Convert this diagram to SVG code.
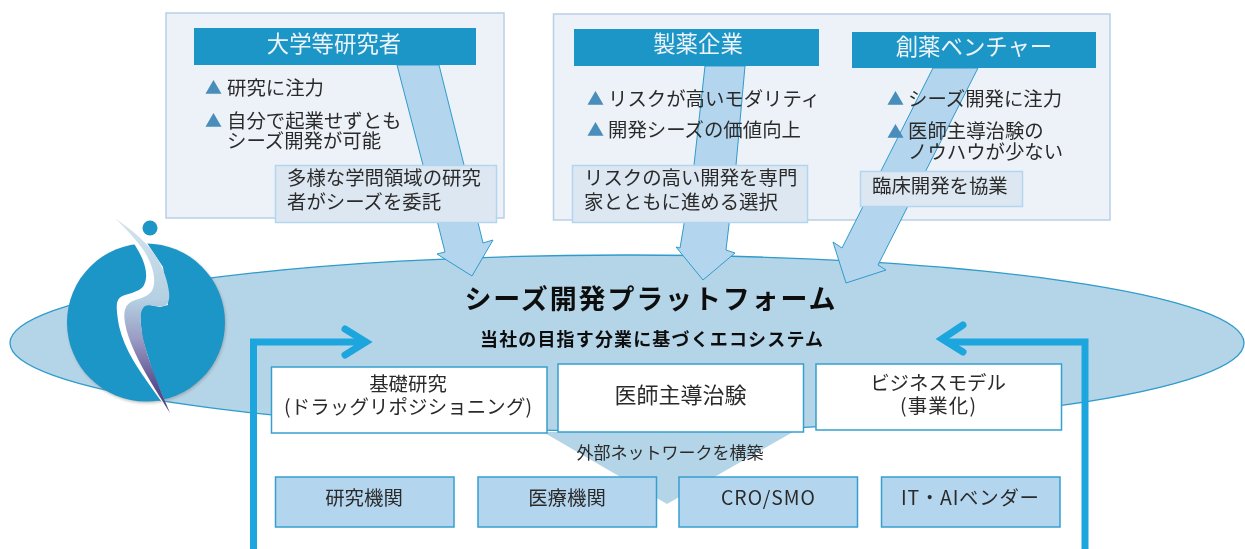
<svg xmlns="http://www.w3.org/2000/svg" width="1245" height="549" viewBox="0 0 1245 549">
<style>
text{font-family:"Noto Sans CJK JP","Noto Sans",sans-serif;fill:#2b2b2b}
.panel{fill:#edf2f9;stroke:#b8d0e6;stroke-width:1.5}
.head{fill:#1e95c7}
.ht{font-size:22.400px;fill:#edf4f9;text-anchor:middle}
.b{font-size:19.400px}
.tri{font-size:17px;fill:#4a8dba}
.lab{fill:#dde7f2;stroke:#b4d5ee;stroke-width:1.5}
.arrow{fill:#b4d5ee;stroke:#2f9bcb;stroke-width:1}
.thick{fill:none;stroke:#1ca6dd;stroke-width:7}
.chev{fill:none;stroke:#1ca6dd;stroke-width:7;stroke-linecap:round;stroke-linejoin:miter}
.wb{fill:#fff;stroke:#35a0cf;stroke-width:1.5}
.sb{fill:#b4d5ee;stroke:#35a0cf;stroke-width:1.5}
.c{text-anchor:middle}
</style>
<defs>
<linearGradient id="sw" gradientUnits="userSpaceOnUse" x1="0" y1="218" x2="0" y2="413">
<stop offset="0" stop-color="#d5e4ee"/><stop offset="0.42" stop-color="#b4d0e2"/><stop offset="0.62" stop-color="#9a9cc4"/><stop offset="0.85" stop-color="#5d5290"/><stop offset="1" stop-color="#4d3f80"/>
</linearGradient>
<filter id="sh" x="-10%" y="-10%" width="120%" height="120%"><feGaussianBlur stdDeviation="1.5"/></filter>
<filter id="soft" x="0" y="0" width="100%" height="100%"><feGaussianBlur stdDeviation="0.35"/></filter>
</defs>
<g filter="url(#soft)">
<rect x="0" y="0" width="1245" height="549" fill="#fff"/>
<g id="panel-university"><rect class="panel" x="166" y="13" width="338" height="205"/></g>
<g id="panel-industry"><rect class="panel" x="553.500" y="14" width="556.500" height="206"/></g>
<g id="platform">
<ellipse cx="627" cy="343" rx="617" ry="88" fill="#b4d5e8" stroke="#2f9bcb" stroke-width="1.300"/>
<polygon points="543,432 793,432 667,504" fill="#b4d5e8"/>
</g>
<g id="connectors">
<polygon class="arrow" points="397,65 439,65 464,165 483,243 493,240 472,276 437,254 445,252 423,165"/>
<polygon class="arrow" points="705,66 745,66 736,165 726,250 735,253 703,280 676,247 680,248 694,165"/>
<polygon class="arrow" points="933,68 978,68 878,265 886,270 846,283 833,242 842,248"/>
<path class="thick" d="M253.500,549V342H364"/>
<path class="chev" d="M345,329L366,342L345,355"/>
<path class="thick" d="M1085,549V342H946"/>
<path class="chev" d="M963,325L942,339L963,352"/>
</g>
<g id="logo">
<circle cx="147" cy="324" r="79" fill="#888" opacity=".55" filter="url(#sh)"/>
<circle cx="146" cy="322.500" r="79" fill="#1e95c7"/>
<circle cx="150" cy="228" r="7.500" fill="#1e95c7"/>
<path d="M115,218L126,232Q137,247 142,258Q147,270 146,278Q145,287 139,290Q133,293 125,295Q118,297 117,303Q116,310 119,326Q123,343 133,360Q143,377 170,413L153,373L142,337L140,313L145,304L160,307L168,305L163,267L147,243Z" fill="#fff"/>
<path d="M115,218L131,230Q147,243 155,255Q163,267 166.500,280Q170,293 169,299Q168,305 164,306Q160,307 152.500,305.500Q145,304 142.500,308.500Q140,313 141,325Q142,337 147.500,355Q153,373 170,413Q147,377 138.500,360Q130,343 126.500,330Q123,317 125,309.500Q127,302 137,299.500Q147,297 151,292Q155,287 154,277Q153,267 146.500,255Q140,243 115,218Z" fill="url(#sw)"/>
</g>
<g id="node-university">
<rect class="head" x="194" y="28" width="282" height="37"/>
<text class="ht" x="334" y="52">大学等研究者</text>
<text class="tri" x="205" y="94">▲</text><text class="b" x="227" y="95">研究に注力</text>
<text class="tri" x="205" y="127">▲</text><text class="b" x="227" y="128">自分で起業せずとも</text>
<text class="b" x="227" y="148">シーズ開発が可能</text>
</g>
<g id="label-university">
<rect class="lab" x="275.500" y="165.500" width="221" height="57"/>
<text class="b" x="287" y="185">多様な学問領域の研究</text>
<text class="b" x="287" y="209">者がシーズを委託</text>
</g>
<g id="node-pharma">
<rect class="head" x="574" y="29" width="245" height="37"/>
<text class="ht" x="698" y="52">製薬企業</text>
<text class="tri" x="587" y="105">▲</text><text class="b" x="608" y="106">リスクが高いモダリティ</text>
<text class="tri" x="587" y="136">▲</text><text class="b" x="608" y="137">開発シーズの価値向上</text>
</g>
<g id="label-pharma">
<rect class="lab" x="572.500" y="165.500" width="235" height="57"/>
<text class="b" x="584" y="185">リスクの高い開発を専門</text>
<text class="b" x="584" y="209">家とともに進める選択</text>
</g>
<g id="node-venture">
<rect class="head" x="852" y="32" width="244" height="36"/>
<text class="ht" x="974" y="55">創薬ベンチャー</text>
<text class="tri" x="887" y="105">▲</text><text class="b" x="908" y="106">シーズ開発に注力</text>
<text class="tri" x="887" y="138">▲</text><text class="b" x="908" y="138">医師主導治験の</text>
<text class="b" x="908" y="159">ノウハウが少ない</text>
</g>
<g id="label-venture">
<rect class="lab" x="860.500" y="171.500" width="162" height="35"/>
<text class="b" x="872" y="193">臨床開発を協業</text>
</g>
<g id="platform-title">
<text x="650" y="309" class="c" font-size="27" font-weight="700" style="fill:#111" textLength="371">シーズ開発プラットフォーム</text>
<text x="651.500" y="346" class="c" font-size="18" font-weight="700" style="fill:#111" textLength="343">当社の目指す分業に基づくエコシステム</text>
</g>
<g id="node-basic">
<rect class="wb" x="271.500" y="367" width="275.500" height="66"/>
<text class="b c" x="408" y="391">基礎研究</text>
<text class="b c" x="408" y="414" textLength="248">(ドラッグリポジショニング)</text>
</g>
<g id="node-trial">
<rect class="wb" x="558" y="364" width="245.500" height="68"/>
<text class="c" x="680.500" y="403" font-size="22">医師主導治験</text>
</g>
<g id="node-business">
<rect class="wb" x="816" y="364" width="245.500" height="66"/>
<text class="b c" x="938" y="390">ビジネスモデル</text>
<text class="b c" x="938" y="413" textLength="76">(事業化)</text>
</g>
<g id="network-label"><text x="670" y="459" class="c" font-size="17">外部ネットワークを構築</text></g>
<g id="node-research"><rect class="sb" x="275.500" y="477" width="178.500" height="50"/><text class="b c" x="364" y="505">研究機関</text></g>
<g id="node-medical"><rect class="sb" x="478" y="477" width="178.500" height="50"/><text class="b c" x="567" y="505">医療機関</text></g>
<g id="node-cro"><rect class="sb" x="679" y="477" width="178.500" height="50"/><text class="b c" x="768" y="505" textLength="94">CRO/SMO</text></g>
<g id="node-it"><rect class="sb" x="881.500" y="477" width="178.500" height="50"/><text class="b c" x="970" y="505" textLength="138">IT・AIベンダー</text></g>
</g>
</svg>
